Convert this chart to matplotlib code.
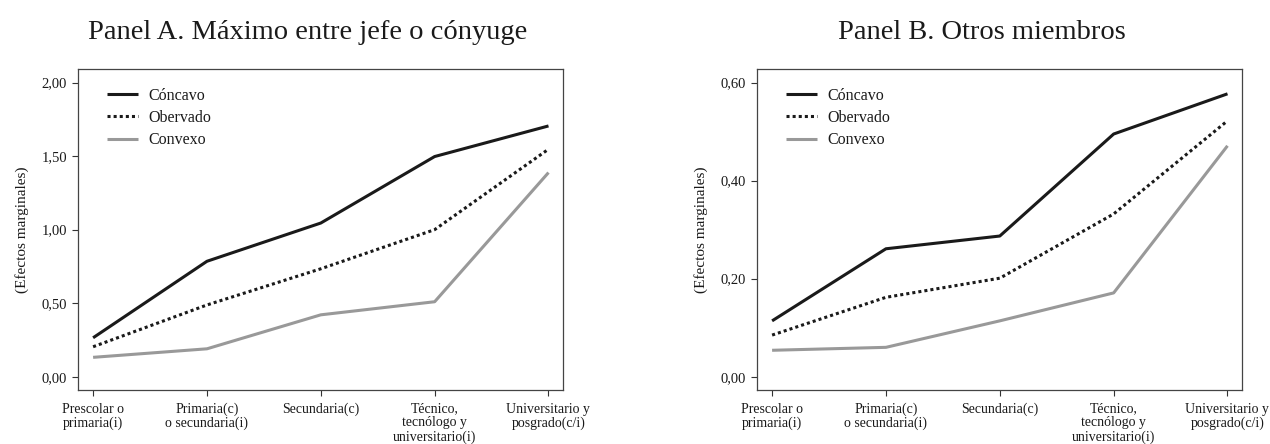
import matplotlib
matplotlib.use("Agg")
import matplotlib.pyplot as plt

categories = ["Prescolar o\nprimaria(i)", "Primaria(c)\no secundaria(i)", "Secundaria(c)",
              "Técnico,\ntecnólogo y\nuniversitario(i)", "Universitario y\nposgrado(c/i)"]

a_concavo = [0.265, 0.785, 1.045, 1.497, 1.705]
a_observado = [0.204, 0.488, 0.734, 1.000, 1.547]
a_convexo = [0.132, 0.190, 0.421, 0.510, 1.388]

b_concavo = [0.114, 0.261, 0.287, 0.495, 0.577]
b_observado = [0.085, 0.162, 0.201, 0.332, 0.522]
b_convexo = [0.054, 0.060, 0.114, 0.171, 0.471]

a_yticks = [0.0, 0.5, 1.0, 1.5, 2.0]
b_yticks = [0.0, 0.2, 0.4, 0.6]

titles = ["Panel A. Máximo entre jefe o cónyuge", "Panel B. Otros miembros"]
ylabel = "(Efectos marginales)"
legend_labels = ["Cóncavo", "Obervado", "Convexo"]

plt.rcParams['font.family'] = ['Liberation Serif', 'DejaVu Serif']

fig = plt.figure(figsize=(12.7, 4.44), dpi=100)
W, H = 1270, 444

def make_ax(left_px, ylim, yticks, data, title, title_x):
    ax = fig.add_axes([left_px / W, 1 - 390 / H, 485 / W, (390 - 69.3) / H])
    x = list(range(len(categories)))
    c, o, v = data
    ax.plot(x, c, color="#1a1a1a", lw=2.2, solid_capstyle="butt", label=legend_labels[0])
    ax.plot(x, o, color="#1a1a1a", lw=2.2, linestyle=(0, (1, 1)), label=legend_labels[1])
    ax.plot(x, v, color="#999999", lw=2.2, solid_capstyle="butt", label=legend_labels[2])
    ax.set_xlim(-0.13, 4.13)
    ax.set_ylim(*ylim)
    ax.set_xticks(x)
    ax.set_xticklabels(categories, fontsize=10, linespacing=1.08, color="#1a1a1a")
    ax.set_yticks(yticks)
    ax.set_yticklabels([f"{t:.2f}".replace(".", ",") for t in yticks], fontsize=10.5, color="#1a1a1a")
    ax.tick_params(axis="x", direction="out", length=4, width=0.8, color="#333333", pad=5)
    ax.tick_params(axis="y", direction="out", length=4, width=0.8, color="#333333", pad=4)
    for s in ax.spines.values():
        s.set_color("#444444")
        s.set_linewidth(0.9)
    ax.set_ylabel(ylabel, fontsize=11, color="#1a1a1a", labelpad=9)
    leg = ax.legend(loc="upper left", frameon=False, fontsize=11.5, handlelength=1.9,
                    handletextpad=0.7, labelspacing=0.4, bbox_to_anchor=(0.03, 0.988))
    for t in leg.get_texts():
        t.set_color("#1a1a1a")
    fig.text(title_x / W, 1 - 39 / H, title, fontsize=20.5, ha="center", va="baseline", color="#1a1a1a")
    return ax

make_ax(78.3, (-0.09, 2.09), a_yticks, (a_concavo, a_observado, a_convexo), titles[0], 308)
make_ax(757.3, (-0.027, 0.627), b_yticks, (b_concavo, b_observado, b_convexo), titles[1], 982)

fig.savefig("out.png", dpi=100)
